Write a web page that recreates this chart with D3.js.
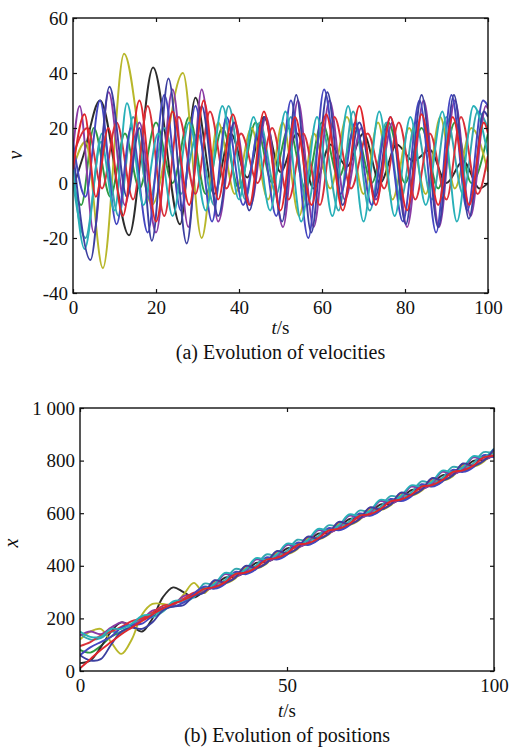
<!DOCTYPE html>
<html lang="en">
<head>
<meta charset="UTF-8" />
<title>Velocities and positions</title>
<script src="https://cdn.jsdelivr.net/npm/d3@7"></script>
<style>
  body { margin: 0; background: #fff; }
</style>
</head>
<body>
<svg id="vis" width="512" height="747"></svg>
<script>
const serif = "Liberation Serif, DejaVu Serif, Times New Roman, serif";

// series colours (draw order)
const seriesNames = ["green", "black", "yellow", "cyan2", "purple", "red2", "blue2", "cyan", "navy", "red"];
const seriesColors = ["#2e9a40", "#2c2c2c", "#b8b72a", "#34a8b0", "#8a3ba4", "#d9303a", "#4446c0", "#28b0b8", "#3c3fa0", "#e0262c"];

// (a) velocities, [t, v] at turning points
const velGreen = [[0,0],[2,-8],[5,20],[9,-5],[12.5,18],[16,-2],[20,22],[24,0],[28,24],[32,-4],[36,20],[40,-2],[44,22],[48,0],[52,20],[56,-2],[60,22],[64,2],[68,20],[72,0],[76,22],[80,0],[84,20],[88,-2],[92,22],[96,0],[100,18]];
const velBlack = [[0,-2],[2.5,10],[6.5,30],[13.5,-19],[19.3,42],[25.8,-15],[29.5,31],[34,-4],[38,18],[42,2],[46,24],[50,4],[54,18],[58,-2],[62,14],[66,6],[70,18],[74,0],[78,14],[82,8],[86,12],[90,0],[94,8],[98,-2],[100,0]];
const velYellow = [[0,5],[3,15],[7.2,-31],[12.3,47],[19,-8],[26.5,40],[31,-20],[35,22],[39,-4],[43,20],[47,-6],[50.5,22],[54.5,-12],[58,18],[62,-2],[66,24],[70,-4],[73.5,22],[77,-6],[81,20],[85,-4],[88.5,24],[92,-2],[96,20],[100,4]];
const velCyan2 = [[0,0],[3,-20],[7,18],[11,-12],[14.5,24],[18.5,-6],[22,20],[26,-4],[30,18],[34,-8],[37.5,28],[41.5,-6],[45,22],[49,-4],[52.5,24],[56.5,-8],[60,20],[64,-10],[67.5,26],[71.5,-10],[75.5,22],[79,-6],[82.5,22],[86.5,-6],[90,24],[94,-4],[97.5,26],[100,20]];
const velPurple = [[0,12],[1.6,28],[5,-18],[8.6,33],[12.5,-8],[16,22],[20,-18],[24,34],[27.8,-16],[31,34],[35,-14],[39,22],[42.8,-8],[46.5,24],[50.6,-16],[54.2,30],[58,-16],[61.8,30],[65.5,-6],[69.5,20],[73,-6],[77,22],[80.5,-16],[84.5,30],[88.2,-16],[92,30],[95.8,-12],[99.5,28],[100,27]];
const velRed2 = [[0,10],[3.5,20],[7,-2],[10.5,22],[14.5,-6],[18,28],[22,-12],[25.5,24],[29.5,-4],[33,26],[37,-2],[40.5,18],[44.5,0],[48,20],[52,-6],[55.5,18],[59.5,-8],[63,24],[67,-2],[71,18],[75,-2],[78.5,22],[82.5,-6],[86,18],[90,-6],[93.5,24],[97.5,-4],[100,10]];
const velBlue2 = [[0,15],[3,-5],[6.5,30],[10.5,-15],[14,20],[18,-18],[22,32],[26,-10],[29.5,28],[33.5,-14],[37,24],[41,-8],[45,20],[49,-12],[52.5,30],[56.7,-20],[60.5,34],[64.5,-4],[68,22],[72,-8],[75.5,20],[79.5,-14],[83.5,30],[87.5,-18],[91.2,32],[95,-10],[98.8,30],[100,28]];
const velCyan = [[0,8],[2.8,-24],[6.8,15],[10,-10],[13,29],[17,-8],[20.5,18],[24,-12],[28,22],[32,-10],[36,28],[40,-6],[43.5,24],[47.5,-10],[51.2,26],[55,-14],[58.8,24],[62.5,-12],[66.3,28],[70,-14],[73.8,26],[77.5,-12],[81.3,24],[85,-8],[89,26],[92.5,-14],[96.5,28],[100,10]];
const velNavy = [[0,12],[4.2,-28],[8.8,35],[13,-5],[16,20],[19,-21],[23,38],[27.4,-22],[31,28],[35,-12],[38.8,22],[42.5,-10],[46.2,24],[50.4,-14],[53.8,32],[57.4,-18],[61.3,33],[65,-8],[69,22],[72.8,-5],[76.5,24],[80.2,-15],[84,32],[88,-16],[91.8,32],[95.4,-13],[99,26],[100,24]];
const velRed = [[0,5],[2.8,25],[5.5,-5],[8.5,20],[12,-12],[16,30],[20,-14],[24,26],[28,-8],[31.5,30],[35,-6],[38.5,25],[42.5,-8],[46,26],[50,-10],[53.5,24],[57.5,-8],[61,25],[65,-10],[69,28],[73,-8],[76.5,24],[80.5,-10],[84,25],[88,-8],[91.5,24],[95.5,-8],[99,22],[100,18]];

// (b) positions, sampled every 2.5 s
const posTime = [0,2.5,5,7.5,10,12.5,15,17.5,20,22.5,25,27.5,30,32.5,35,37.5,40,42.5,45,47.5,50,52.5,55,57.5,60,62.5,65,67.5,70,72.5,75,77.5,80,82.5,85,87.5,90,92.5,95,97.5,100];
const posGreen = [80,70,95,130,150,170,195,210,235,258,270,290,317,315,333,373,370,389,428,426,444,484,481,500,539,537,555,595,592,611,650,648,666,706,703,722,761,759,777,817,814];
const posBlack = [30,40,90,150,185,170,150,200,280,318,300,280,303,322,355,359,377,411,414,433,466,470,488,522,525,544,577,581,599,633,636,655,688,692,710,744,747,766,799,803,821];
const posYellow = [120,150,160,110,65,120,215,255,255,250,290,335,296,336,333,352,391,389,407,447,444,463,502,500,518,558,555,574,613,611,629,669,666,685,724,722,740,780,777,796,835];
const posCyan2 = [140,120,125,150,145,175,205,205,225,260,262,280,332,327,345,388,382,401,443,438,456,499,493,512,554,549,567,610,604,623,665,660,678,721,715,734,776,771,789,832,826];
const posPurple = [135,150,140,165,185,175,195,230,235,250,285,290,304,323,368,360,378,424,415,434,479,471,489,535,526,545,590,582,600,646,637,656,701,693,711,757,748,767,812,804,822];
const posRed2 = [95,110,135,150,168,190,200,222,248,256,275,298,300,343,337,356,398,393,411,454,448,467,509,504,522,565,559,578,620,615,633,676,670,689,731,726,744,787,781,800,842];
const posBlue2 = [60,90,110,130,165,175,180,210,240,245,260,295,321,313,331,377,368,387,432,424,442,488,479,498,543,535,553,599,590,609,654,646,664,710,701,720,765,757,775,821,812];
const posCyan = [150,130,130,160,160,180,210,215,230,265,270,285,312,331,373,368,386,429,423,442,484,479,497,540,534,553,595,590,608,651,645,664,706,701,719,762,756,775,817,812,846];
const posNavy = [60,40,45,100,150,165,160,185,230,245,250,285,299,345,336,355,400,392,410,456,447,466,511,503,521,567,558,577,622,614,632,678,669,688,733,725,743,789,780,799,844];
const posRed = [10,45,80,110,140,165,190,215,238,255,270,288,312,319,337,368,374,393,423,430,448,479,485,504,534,541,559,590,596,615,645,652,670,701,707,726,756,763,781,812,818];

// ticks
const velTicksX = [0, 20, 40, 60, 80, 100];
const velTicksY = [-40, -20, 0, 20, 40, 60];
const posTicksX = [0, 50, 100];
const posTicksY = [0, 200, 400, 600, 800, 1000];

const velSeries = [velGreen, velBlack, velYellow, velCyan2, velPurple, velRed2, velBlue2, velCyan, velNavy, velRed];
const posSeries = [posGreen, posBlack, posYellow, posCyan2, posPurple, posRed2, posBlue2, posCyan, posNavy, posRed];

const svg = d3.select("#vis");

function panel(cfg) {
  const x = d3.scaleLinear().domain(cfg.xDomain).range([cfg.left, cfg.right]);
  const y = d3.scaleLinear().domain(cfg.yDomain).range([cfg.bottom, cfg.top]);
  const g = svg.append("g");

  g.append("clipPath").attr("id", cfg.id + "-clip")
    .append("rect")
    .attr("x", cfg.left).attr("y", cfg.top)
    .attr("width", cfg.right - cfg.left).attr("height", cfg.bottom - cfg.top);

  const lines = g.append("g").attr("clip-path", "url(#" + cfg.id + "-clip)");
  const line = d3.line().x(d => x(d[0])).y(d => y(d[1])).curve(cfg.curve);
  cfg.series.forEach((s, i) => {
    lines.append("path")
      .attr("d", line(s))
      .attr("fill", "none")
      .attr("stroke", seriesColors[i])
      .attr("stroke-width", cfg.lineWidth)
      .attr("stroke-linejoin", "round");
  });

  // axes with inward ticks
  const fmt = cfg.format || (d => d);
  const axB = g.append("g").attr("transform", `translate(0,${cfg.bottom})`)
    .call(d3.axisBottom(x).tickValues(cfg.xTicks).tickSizeInner(-4).tickSizeOuter(0).tickPadding(cfg.xPad));
  const axL = g.append("g").attr("transform", `translate(${cfg.left},0)`)
    .call(d3.axisLeft(y).tickValues(cfg.yTicks).tickSizeInner(-4).tickSizeOuter(0).tickPadding(5).tickFormat(fmt));
  const axT = g.append("g").attr("transform", `translate(0,${cfg.top})`)
    .call(d3.axisTop(x).tickValues(cfg.xTicks).tickSizeInner(-4).tickSizeOuter(0).tickFormat(""));
  const axR = g.append("g").attr("transform", `translate(${cfg.right},0)`)
    .call(d3.axisRight(y).tickValues(cfg.yTicks).tickSizeInner(-4).tickSizeOuter(0).tickFormat(""));
  [axB, axL, axT, axR].forEach(a => {
    a.attr("font-family", serif).attr("font-size", 19);
    a.select(".domain").remove();
    a.selectAll("line").attr("stroke", "#111").attr("stroke-width", 1.2);
    a.selectAll("text").attr("fill", "#111");
  });

  g.append("rect")
    .attr("x", cfg.left).attr("y", cfg.top)
    .attr("width", cfg.right - cfg.left).attr("height", cfg.bottom - cfg.top)
    .attr("fill", "none").attr("stroke", "#111").attr("stroke-width", 1.4);

  const cx = (cfg.left + cfg.right) / 2;
  const tl = g.append("text").attr("x", cx).attr("y", cfg.tLabelY)
    .attr("text-anchor", "middle").attr("font-size", 19).attr("font-family", serif).attr("fill", "#111");
  tl.append("tspan").attr("font-style", "italic").text("t");
  tl.append("tspan").text("/s");

  g.append("text").attr("x", cx).attr("y", cfg.captionY)
    .attr("text-anchor", "middle").attr("font-size", 20).attr("font-family", serif).attr("fill", "#111")
    .text(cfg.caption);

  g.append("text")
    .attr("transform", `translate(${cfg.yLabelX},${cfg.yLabelY}) rotate(-90)`)
    .attr("text-anchor", "middle").attr("font-size", 20).attr("font-style", "italic")
    .attr("font-family", serif).attr("fill", "#111")
    .text(cfg.yLabel);
}

panel({
  id: "vel", left: 73, right: 488, top: 18, bottom: 293,
  xDomain: [0, 100], yDomain: [-40, 60],
  xTicks: velTicksX, yTicks: velTicksY, xPad: 8,
  series: velSeries, curve: d3.curveMonotoneX, lineWidth: 1.9,
  tLabelY: 334, captionY: 359, caption: "(a) Evolution of velocities",
  yLabel: "v", yLabelX: 22, yLabelY: 155
});

panel({
  id: "pos", left: 80, right: 494, top: 408, bottom: 671,
  xDomain: [0, 100], yDomain: [0, 1000],
  xTicks: posTicksX, yTicks: posTicksY, xPad: 8,
  series: posSeries.map(s => s.map((v, i) => [posTime[i], v])), curve: d3.curveCatmullRom, lineWidth: 1.9,
  format: d => d === 1000 ? "1 000" : d,
  tLabelY: 717, captionY: 742, caption: "(b) Evolution of positions",
  yLabel: "x", yLabelX: 18, yLabelY: 543
});
</script>
</body>
</html>
